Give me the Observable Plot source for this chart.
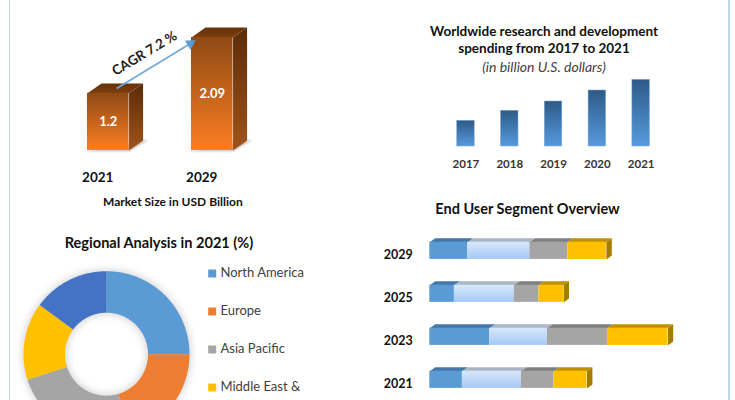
<!DOCTYPE html>
<html>
<head>
<meta charset="utf-8">
<script src="https://cdn.jsdelivr.net/npm/d3@7"></script>
<script src="https://cdn.jsdelivr.net/npm/@observablehq/plot@0.6"></script>
<style>
html,body{margin:0;padding:0;width:735px;height:400px;overflow:hidden;background:#fff;font-family:Lato,sans-serif}
#page{position:relative;width:735px;height:400px;overflow:hidden}
.panel{position:absolute}
.panel svg{display:block;background:transparent;overflow:hidden;max-width:none}
.t{position:absolute;white-space:nowrap;transform:translate(-50%,-50%);font-weight:700;color:#111;line-height:1}
.rule{position:absolute;top:0;bottom:0;width:1.5px;background:#bcd6ee}
</style>
</head>
<body>
<svg width="0" height="0" style="position:absolute">
  <defs>
    <linearGradient id="oFront" x1="0" y1="0" x2="0" y2="1"><stop offset="0" stop-color="#8f4a14"/><stop offset="1" stop-color="#fb7d24"/></linearGradient>
    <linearGradient id="oSide" x1="0" y1="0" x2="0" y2="1"><stop offset="0" stop-color="#5a2c0a"/><stop offset="1" stop-color="#a0541a"/></linearGradient>
    <linearGradient id="oTop" x1="0" y1="0" x2="0" y2="1"><stop offset="0" stop-color="#653209"/><stop offset="1" stop-color="#7c3f10"/></linearGradient>
    <linearGradient id="bFront" x1="0" y1="0" x2="0" y2="1"><stop offset="0" stop-color="#2e5a87"/><stop offset="1" stop-color="#569ade"/></linearGradient>
    <linearGradient id="lFront" x1="0" y1="0" x2="0" y2="1"><stop offset="0" stop-color="#d9e8fb"/><stop offset="1" stop-color="#a4c8f4"/></linearGradient>
  </defs>
</svg>
<div id="page">
  <div class="rule" style="left:8.5px"></div>
  <div class="rule" style="left:728px"></div>
</div>
<script>
// ---- data ----
const marketYears = ["2021", "2029"];
const marketValues = [1.2, 2.09];
const marketBase = 0.29;
const cagrLabel = "CAGR 7.2 %";

const rdYears = ["2017", "2018", "2019", "2020", "2021"];
const rdValues = [25.7, 35.7, 45, 56, 66.7];

const regions = ["North America", "Europe", "Asia Pacific", "Middle East &", "South America"];
const regionShares = [25, 20.3, 24.7, 15.1, 14.9];
const regionColors = ["#5b9bd5", "#ed7d31", "#a5a5a5", "#ffc000", "#4472c4"];
const regionLegendCount = 4;

const segYears = ["2029", "2025", "2023", "2021"];
const segNames = ["Segment 1", "Segment 2", "Segment 3", "Segment 4"];
const seg1 = [19, 12.3, 30, 16.3];
const seg2 = [31, 30, 28.8, 29.5];
const seg3 = [19, 12.3, 30, 16.3];
const seg4 = [19.3, 12.3, 30.2, 16.5];
const segFront = ["#5b9bd5", "url(#lFront)", "#a5a5a5", "#ffc000"];
const segTop = ["#4477a8", "#aab5c6", "#7f7f7f", "#bf9000"];
const segSide = "#a67c00";

const page = document.getElementById("page");
function place(svg, left, top) {
  const d = document.createElement("div");
  d.className = "panel";
  d.style.left = left + "px";
  d.style.top = top + "px";
  d.appendChild(svg);
  page.appendChild(d);
}
function title(text, cx, cy, size, extra) {
  const d = document.createElement("div");
  d.className = "t";
  d.textContent = text;
  d.style.left = cx + "px";
  d.style.top = cy + "px";
  d.style.fontSize = size + "px";
  if (extra) Object.assign(d.style, extra);
  page.appendChild(d);
}
const font = {fontFamily: "Lato, sans-serif", background: "transparent"};
const poly = (id, pts) => pts.map(([x, y]) => ({id, x, y}));

// ---- market size 3D columns ----
{
  const hw = 0.2, dX = 0.135, dY = 0.159;
  const rows = marketValues.map((v, i) => ({i, v, year: marketYears[i]}));
  const tops = rows.flatMap(d => poly(d.i, [[d.i - hw, d.v], [d.i + hw, d.v], [d.i + hw + dX, d.v + dY], [d.i - hw + dX, d.v + dY]]));
  const sides = rows.flatMap(d => poly(d.i, [[d.i + hw, d.v], [d.i + hw + dX, d.v + dY], [d.i + hw + dX, marketBase + dY], [d.i + hw, marketBase]]));
  const shadows = rows.flatMap(d => poly(d.i, [[d.i - hw - 0.03, marketBase - 0.012], [d.i + hw, marketBase - 0.012], [d.i + hw + dX + 0.05, marketBase + dY + 0.01], [d.i + hw + dX, marketBase + dY]]));
  const arrow = [{x1: 0.08, y1: 1.277, x2: 0.79, y2: 1.994}];
  place(Plot.plot({
    width: 300, height: 190, margin: 0, style: font,
    x: {domain: [0, 1], range: [107.75, 211.75], axis: null},
    y: {domain: [marketBase, 2.09], range: [150, 37], axis: null},
    marks: [
      Plot.line(shadows, {x: "x", y: "y", z: "id", fill: "#8c8c8c", stroke: "none", fillOpacity: 0.55, imageFilter: "blur(1.2px)"}),
      Plot.line(sides, {x: "x", y: "y", z: "id", fill: "url(#oSide)", stroke: "none"}),
      Plot.line(tops, {x: "x", y: "y", z: "id", fill: "url(#oTop)", stroke: "none"}),
      Plot.rect(rows, {x1: d => d.i - hw, x2: d => d.i + hw, y1: marketBase, y2: "v", fill: "url(#oFront)"}),
      Plot.link(arrow, {x1: "x1", y1: "y1", x2: "x2", y2: "y2", stroke: "#6fa8dc", strokeWidth: 1.6}),
      Plot.dot(arrow, {x: "x2", y: "y2", symbol: "triangle", r: 4, rotate: 59, fill: "#5b9bd5", stroke: "none"}),
      Plot.text(arrow, {x: d => (d.x1 + d.x2) / 2, y: d => (d.y1 + d.y2) / 2, text: () => cagrLabel, rotate: -31, dx: -9, dy: -12.5, fontSize: 13.5, fontWeight: 700, fill: "#222"}),
      Plot.text(rows, {x: "i", y: d => (d.v + marketBase) / 2, text: d => String(d.v), fontSize: 13, fontWeight: 700, fill: "#fff"}),
      Plot.text(rows, {x: "i", y: marketBase, text: "year", dx: -10.5, dy: 27, fontSize: 13.5, fontWeight: 700, fill: "#111"})
    ]
  }), 0, 0);
  title("Market Size in USD Billion", 172.8, 201.5, 12);
}

// ---- R&D spending columns ----
{
  const rows = rdYears.map((year, i) => ({year, v: rdValues[i]}));
  place(Plot.plot({
    width: 260, height: 115, marginTop: 19.3, marginBottom: 29, marginLeft: 0, marginRight: 0, style: font,
    x: {type: "band", domain: rdYears, range: [10.4, 255.7], padding: 0.6, round: false, label: null},
    y: {domain: [0, 66.7], axis: null},
    marks: [
      Plot.barY(rows, {x: "year", y: "v", fill: "url(#bFront)", stroke: "#7fa8cf", strokeWidth: 0.5}),
      Plot.axisX({tickSize: 0, tickPadding: 13, fontSize: 11.5, fontWeight: 700, fill: "#333", label: null})
    ]
  }), 420, 60);
  title("Worldwide research and development", 544, 31.5, 13.5);
  title("spending from 2017 to 2021", 544, 49.3, 13.5);
  title("(in billion U.S. dollars)", 544, 67, 14, {fontWeight: 400, fontStyle: "italic", color: "#404040"});
}

// ---- regional donut ----
{
  const pie = d3.pie().sort(null)(regionShares);
  const inner = 0.5, n = 120;
  const ring = [];
  pie.forEach((a, k) => {
    const name = regions[k];
    const angs = d3.range(0, 1.0001, 1 / n).map(t => a.startAngle + t * (a.endAngle - a.startAngle));
    for (const t of angs) ring.push({name, x: Math.sin(t), y: Math.cos(t)});
    for (const t of angs.slice().reverse()) ring.push({name, x: inner * Math.sin(t), y: inner * Math.cos(t)});
  });
  place(Plot.plot({
    width: 200, height: 175, margin: 0, style: font,
    x: {domain: [-1, 1], range: [23, 189], axis: null},
    y: {domain: [-1, 1], range: [211.7, 45.7], axis: null},
    color: {domain: regions, range: regionColors},
    marks: [
      Plot.line(ring, {x: "x", y: "y", z: "name", fill: "name", stroke: "none", imageFilter: "drop-shadow(0 0 5px rgba(0,0,0,0.22))"})
    ]
  }), 0, 225);
  title("Regional Analysis in 2021 (%)", 159, 243.3, 14.6);
  const shown = regions.slice(0, regionLegendCount);
  place(Plot.plot({
    width: 130, height: 145, margin: 0, style: font,
    y: {type: "point", domain: shown, range: [17.3, 132.8], padding: 0, axis: null},
    color: {domain: regions, range: regionColors},
    marks: [
      Plot.dot(shown, {y: d => d, frameAnchor: "left", dx: 11.7, symbol: "square", r: 4.5, fill: d => d, stroke: "none"}),
      Plot.text(shown, {y: d => d, frameAnchor: "left", dx: 20, dy: -0.8, text: d => d, textAnchor: "start", fontSize: 13, fill: "#404040"})
    ]
  }), 200, 255);
}

// ---- end user stacked 3D bars ----
{
  const hh = 0.2, dX = 2.7, dY = 0.093;
  const series = [seg1, seg2, seg3, seg4];
  const fronts = [], tops = [], sides = [];
  segYears.forEach((year, i) => {
    let x0 = 0;
    series.forEach((s, k) => {
      const x1 = x0 + s[i];
      fronts.push({i, name: segNames[k], x0, x1});
      const id = i + "-" + k;
      tops.push(...poly(id, [[x0, i - hh], [x1, i - hh], [x1 + dX, i - hh - dY], [x0 + dX, i - hh - dY]]).map(p => ({...p, c: segTop[k]})));
      x0 = x1;
    });
    sides.push(...poly(i, [[x0, i - hh], [x0 + dX, i - hh - dY], [x0 + dX, i + hh - dY], [x0, i + hh]]));
  });
  place(Plot.plot({
    width: 310, height: 175, margin: 0, style: font,
    x: {domain: [0, 100], range: [54.3, 254.3], axis: null},
    y: {domain: [0, 3], range: [25.3, 154.3], axis: null},
    color: {domain: segNames, range: segFront},
    marks: [
      Plot.line(tops, {x: "x", y: "y", z: "id", fill: {value: "c", scale: null}, stroke: "none"}),
      Plot.line(sides, {x: "x", y: "y", z: "id", fill: segSide, stroke: "none"}),
      Plot.rect(fronts, {x1: "x0", x2: "x1", y1: d => d.i - hh, y2: d => d.i + hh, fill: "name"}),
      Plot.text(segYears, {x: 0, y: (d, i) => i, text: d => d, dx: -17, dy: 4.5, textAnchor: "end", fontSize: 12.5, fontWeight: 700, fill: "#111"})
    ]
  }), 375, 225);
  title("End User Segment Overview", 527.5, 209, 14.5);
}
</script>
</body>
</html>
